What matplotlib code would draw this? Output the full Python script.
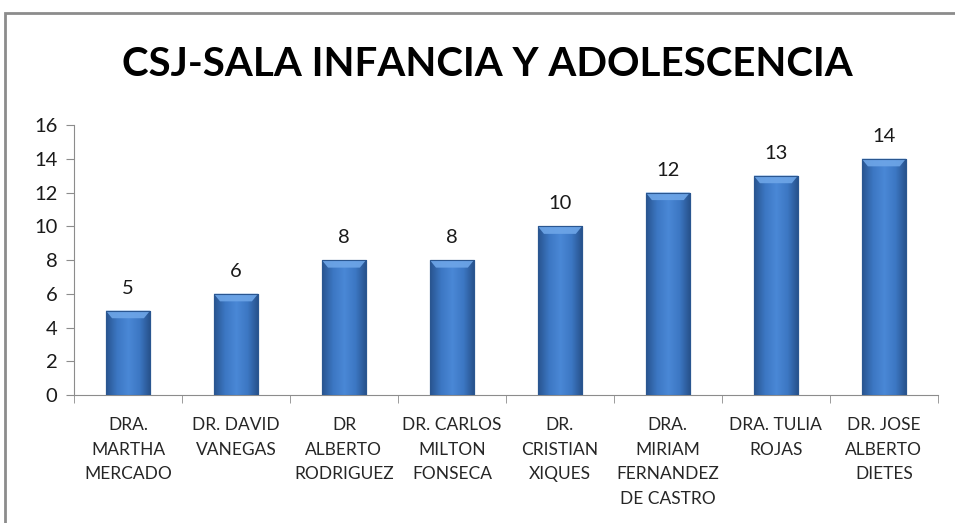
import numpy as np
import matplotlib.pyplot as plt
from matplotlib.patches import Rectangle, Polygon
from matplotlib.colors import LinearSegmentedColormap

# Data
names = ['DRA.\nMARTHA\nMERCADO', 'DR. DAVID\nVANEGAS', 'DR\nALBERTO\nRODRIGUEZ',
         'DR. CARLOS\nMILTON\nFONSECA', 'DR.\nCRISTIAN\nXIQUES',
         'DRA.\nMIRIAM\nFERNANDEZ\nDE CASTRO', 'DRA. TULIA\nROJAS',
         'DR. JOSE\nALBERTO\nDIETES']
values = [5, 6, 8, 8, 10, 12, 13, 14]
yticks = [0, 2, 4, 6, 8, 10, 12, 14, 16]
title = 'CSJ-SALA INFANCIA Y ADOLESCENCIA'

plt.rcParams['font.family'] = ['Lato', 'DejaVu Sans']

fig = plt.figure(figsize=(9.55, 5.23), dpi=100)
ax = fig.add_axes([0.0775, 0.2447, 0.9045, 0.5163])

# outer chart frame
fig.add_artist(Rectangle((5 / 955, -0.1), 1.2, 1.1 - 13 / 523, transform=fig.transFigure,
                         fill=False, ec='#8c8c8c', lw=2))

x = np.arange(len(values))
bars = ax.bar(x, values, width=0.41, color='#3b74bd', edgecolor='#2a5690', lw=0.8, zorder=2)

# horizontal gradient inside every bar
cmap = LinearSegmentedColormap.from_list('barblue', ['#28548f', '#3c77c3', '#4a88d6', '#3c77c3', '#264f88'])
grad = np.linspace(0, 1, 256).reshape(1, -1)
for b in bars:
    x0, y0, w, h = b.get_x(), b.get_y(), b.get_width(), b.get_height()
    im = ax.imshow(grad, extent=[x0, x0 + w, y0, y0 + h], aspect='auto', cmap=cmap, zorder=3)
    im.set_clip_path(b)
    # top bevel
    dx, dy = w * 0.14, 0.45
    ax.add_patch(Polygon([(x0, y0 + h), (x0 + w, y0 + h), (x0 + w - dx, y0 + h - dy), (x0 + dx, y0 + h - dy)],
                         closed=True, fc='#6ea6e8', ec='none', alpha=0.9, zorder=4))
    ax.add_patch(Rectangle((x0, y0), w, h, fill=False, ec='#2a5690', lw=0.8, zorder=5))
    ax.annotate(str(int(h)), (x0 + w / 2, y0 + h), xytext=(0, 10), textcoords='offset points',
                ha='center', va='bottom', fontsize=14.5, color='#1a1a1a')

ax.set_xlim(-0.5, len(values) - 0.5)
ax.set_ylim(0, 16)
ax.set_yticks(yticks)
ax.tick_params(axis='y', labelsize=14.5, colors='#1a1a1a', length=6, color='#8c8c8c', pad=6)

# category labels and boundary ticks
ax.set_xticks(x)
ax.set_xticklabels(names, fontsize=12.5, color='#262626', linespacing=1.65)
ax.tick_params(axis='x', length=0, pad=16)
ax.set_xticks(np.arange(len(values) + 1) - 0.5, minor=True)
ax.tick_params(axis='x', which='minor', length=6, color='#8c8c8c', direction='out')

for s in ['top', 'right']:
    ax.spines[s].set_visible(False)
for s in ['left', 'bottom']:
    ax.spines[s].set_color('#8c8c8c')

fig.text(0.51, 0.876, title, ha='center', va='center', fontsize=29,
         fontweight='bold', color='black')

fig.savefig('out.png', dpi=100)
